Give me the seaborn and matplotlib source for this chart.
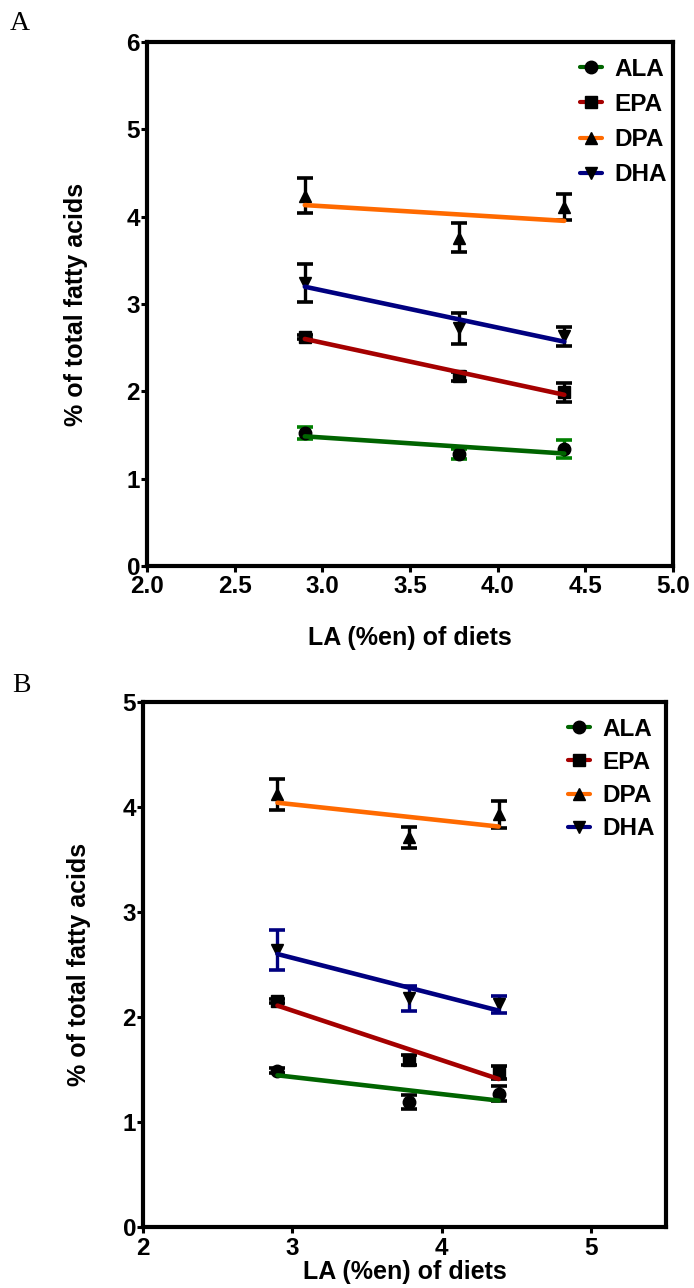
import matplotlib
matplotlib.use("Agg")
import matplotlib.pyplot as plt
from matplotlib.lines import Line2D
import seaborn as sns
import numpy as np

# LA content of the three diets (% energy)
la_diet = [2.90, 3.78, 4.38]

# Panel A: means and SEM (% of total fatty acids)
a_ala = [1.52, 1.28, 1.34]
a_ala_sem = [0.07, 0.06, 0.10]
a_epa = [2.62, 2.17, 1.99]
a_epa_sem = [0.02, 0.05, 0.11]
a_dpa = [4.24, 3.76, 4.11]
a_dpa_sem = [0.20, 0.17, 0.15]
a_dha = [3.24, 2.72, 2.63]
a_dha_sem = [0.22, 0.18, 0.11]

# Panel B: means and SEM (% of total fatty acids)
b_ala = [1.49, 1.19, 1.27]
b_ala_sem = [0.02, 0.07, 0.07]
b_epa = [2.15, 1.59, 1.47]
b_epa_sem = [0.02, 0.05, 0.06]
b_dpa = [4.12, 3.71, 3.93]
b_dpa_sem = [0.15, 0.10, 0.13]
b_dha = [2.64, 2.18, 2.12]
b_dha_sem = [0.19, 0.12, 0.08]

series_names = ["ALA", "EPA", "DPA", "DHA"]
line_colors = ["#006400", "#a50000", "#ff6a00", "#000080"]
markers = ["o", "s", "^", "v"]

a_xticks = [2.0, 2.5, 3.0, 3.5, 4.0, 4.5, 5.0]
a_yticks = [0, 1, 2, 3, 4, 5, 6]
b_xticks = [2, 3, 4, 5]
b_yticks = [0, 1, 2, 3, 4, 5]

sns.set_theme(style="ticks")
plt.rcParams["font.family"] = ["Liberation Sans", "DejaVu Sans"]
plt.rcParams["font.weight"] = "bold"
plt.rcParams["axes.labelweight"] = "bold"
for key in ["text.color", "axes.labelcolor", "xtick.color", "ytick.color", "axes.edgecolor"]:
    plt.rcParams[key] = "black"

W, H = 694, 1288
fig = plt.figure(figsize=(W / 100, H / 100), dpi=100)

TICK_FS = 17.5
LABEL_FS = 18
LEGEND_FS = 17.5


def frac_axes(left, top, right, bottom):
    return fig.add_axes([left / W, 1 - bottom / H, (right - left) / W, (bottom - top) / H])


def draw_panel(ax, means, sems, err_colors, xlim, ylim, xticks, yticks, xfmt, xpad):
    for name, y, e, lc, ec, m in zip(series_names, means, sems, line_colors, err_colors, markers):
        ax.errorbar(la_diet, y, yerr=e, fmt=m, color="black", ecolor=ec, ms=9,
                    elinewidth=2.4, capsize=6, capthick=2.6, zorder=3, clip_on=False)
        sns.regplot(x=np.array(la_diet), y=np.array(y), ax=ax, scatter=False, ci=None,
                    truncate=True, line_kws=dict(color=lc, lw=3.3, zorder=4))
    ax.set_xlim(*xlim)
    ax.set_ylim(*ylim)
    ax.set_xticks(xticks)
    ax.set_yticks(yticks)
    ax.set_xticklabels([xfmt.format(t) for t in xticks])
    ax.set_yticklabels([str(t) for t in yticks])
    for s in ax.spines.values():
        s.set_linewidth(3.0)
        s.set_color("black")
        s.set_visible(True)
    ax.tick_params(axis="both", direction="out", length=4, width=2.2, color="black",
                   labelcolor="black", labelsize=TICK_FS)
    ax.tick_params(axis="y", pad=1)
    ax.tick_params(axis="x", pad=xpad)
    for lab in ax.get_xticklabels() + ax.get_yticklabels():
        lab.set_fontweight("bold")
    ax.set_ylabel("% of total fatty acids", fontsize=LABEL_FS, fontweight="bold", color="black")
    ax.set_xlabel("LA (%en) of diets", fontsize=LABEL_FS, fontweight="bold", color="black")
    handles = [Line2D([0], [0], color=c, lw=3, marker=m, mfc="black", mec="black", ms=9)
               for c, m in zip(line_colors, markers)]
    return handles


# Panel A
axA = frac_axes(147, 42, 673, 566)
hA = draw_panel(axA, [a_ala, a_epa, a_dpa, a_dha], [a_ala_sem, a_epa_sem, a_dpa_sem, a_dha_sem],
                ["#008000", "black", "black", "black"], (2.0, 5.0), (0, 6),
                a_xticks, a_yticks, "{:.1f}", 2.5)
axA.legend(hA, series_names, loc="upper right", bbox_to_anchor=(0.988, 0.97),
           frameon=False, prop=dict(size=LEGEND_FS, weight="bold"), handlelength=0.9,
           handletextpad=0.5, labelspacing=0.5, borderpad=0, borderaxespad=0,
           labelcolor="black")
axA.yaxis.set_label_coords(-0.112, 0.5)
axA.xaxis.set_label_coords(0.5, -0.115)

# Panel B
axB = frac_axes(143, 702, 666, 1227)
hB = draw_panel(axB, [b_ala, b_epa, b_dpa, b_dha], [b_ala_sem, b_epa_sem, b_dpa_sem, b_dha_sem],
                ["black", "black", "black", "#000080"], (2, 5.5), (0, 5),
                b_xticks, b_yticks, "{:d}", 3)
axB.legend(hB, series_names, loc="upper right", bbox_to_anchor=(0.978, 0.97),
           frameon=False, prop=dict(size=LEGEND_FS, weight="bold"), handlelength=0.9,
           handletextpad=0.5, labelspacing=0.42, borderpad=0, borderaxespad=0,
           labelcolor="black")
axB.yaxis.set_label_coords(-0.1, 0.5)
axB.xaxis.set_label_coords(0.5, -0.062)

fig.text(10 / W, 1 - 30 / H, "A", family="Liberation Serif", fontsize=20, fontweight="normal",
         ha="left", va="baseline", color="black")
fig.text(12 / W, 1 - 692 / H, "B", family="Liberation Serif", fontsize=20, fontweight="normal",
         ha="left", va="baseline", color="black")

fig.savefig("out.png", dpi=100, facecolor="white")
